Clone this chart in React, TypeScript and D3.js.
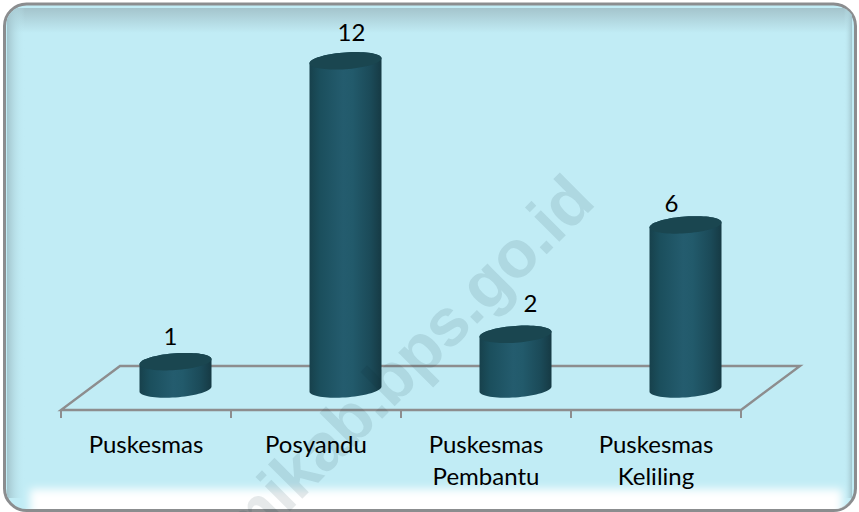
import React from 'react';
import * as d3 from 'd3';

const categories = ['Puskesmas', 'Posyandu', 'Puskesmas Pembantu', 'Puskesmas Keliling'];
const values = [1, 12, 2, 6];
const labelLines = [['Puskesmas'], ['Posyandu'], ['Puskesmas', 'Pembantu'], ['Puskesmas', 'Keliling']];
// data labels were moved by hand in the original
const labelDx = [-5, 6, 15, -14];
const labelDy = [-17, -20, -22, -13];

const W = 859;
const H = 512;
const FONT = 'Lato, "Noto Sans", sans-serif';

const x = d3.scaleBand<string>().domain(categories).range([61, 741]);
const y = d3.scaleLinear().domain([0, 12]).range([389, 60.8]);

const floorY = 410;
const backY = 366;
const depth = 59;
const tickLen = 8;
const rx = 36;
const ry = 8.4;
const tilt = 2.5;

const angles = d3.range(0, 2 * Math.PI + 0.001, Math.PI / 36);
const lowerHalf = d3.range(0, Math.PI + 0.001, Math.PI / 36);
const upperHalf = lowerHalf.map((t) => t + Math.PI);

const pt = (cx: number, cy: number, t: number): [number, number] => [
  cx + rx * Math.cos(t),
  cy - tilt * Math.cos(t) + ry * Math.sin(t),
];
const line = d3.line();

const topPath = (cx: number, cy: number) => line(angles.map((t) => pt(cx, cy, t))) + 'Z';
// side of the cylinder, closed over the far rim so the lid hides the seam
const bodyPath = (cx: number, top: number, base: number) =>
  line([...lowerHalf.map((t) => pt(cx, base, t)), ...upperHalf.map((t) => pt(cx, top, t))]) + 'Z';

export default function App() {
  const ticks = [...categories.map((c) => x(c) as number), 741];
  const cx = (c: string) => (x(c) as number) + x.bandwidth() / 2;

  return (
    <svg width={W} height={H} style={{ position: 'absolute', left: 0, top: 0 }}>
      <defs>
        <linearGradient id="body" x1="0" x2="1" y1="0" y2="0">
          <stop offset="0" stopColor="#17414c" />
          <stop offset="0.15" stopColor="#1b4f5d" />
          <stop offset="0.47" stopColor="#245c6e" />
          <stop offset="0.6" stopColor="#225a6b" />
          <stop offset="0.85" stopColor="#1b4a58" />
          <stop offset="1" stopColor="#163a44" />
        </linearGradient>
        <linearGradient id="shadeTop" x1="0" x2="0" y1="0" y2="1">
          <stop offset="0" stopColor="#a4c4cc" />
          <stop offset="1" stopColor="#c1ecf5" />
        </linearGradient>
        <linearGradient id="shadeLeft" x1="0" x2="1" y1="0" y2="0">
          <stop offset="0" stopColor="#a2c4cc" />
          <stop offset="1" stopColor="#c1ecf5" stopOpacity="0" />
        </linearGradient>
        <linearGradient id="shadeRight" x1="1" x2="0" y1="0" y2="0">
          <stop offset="0" stopColor="#a2c4cc" />
          <stop offset="1" stopColor="#c1ecf5" stopOpacity="0" />
        </linearGradient>
        <filter id="soft" x="-5%" y="-50%" width="110%" height="200%">
          <feGaussianBlur stdDeviation="4.5" />
        </filter>
        <clipPath id="inner">
          <rect x={6} y={6} width={849} height={503} rx={20} />
        </clipPath>
      </defs>

      <rect x={4.5} y={4} width={851} height={506.5} rx={22} fill="#c1ecf5" stroke="#8b8d8f" strokeWidth={3} />

      <g clipPath="url(#inner)">
        <rect x={7} y={8} width={845} height={25} fill="url(#shadeTop)" />
        <rect x={7} y={8} width={18} height={490} fill="url(#shadeLeft)" />
        <rect x={844} y={8} width={8} height={490} fill="url(#shadeRight)" />
        <rect x={30} y={489} width={812} height={30} fill="#ffffff" filter="url(#soft)" />
      </g>

      <path
        d={
          line([
            [ticks[0], floorY],
            [ticks[4], floorY],
            [ticks[4] + depth, backY],
            [ticks[0] + depth, backY],
          ]) + 'Z'
        }
        fill="none"
        stroke="#8d8d8e"
        strokeWidth={2.4}
      />
      {ticks.map((t) => (
        <line key={t} x1={t} x2={t} y1={floorY} y2={floorY + tickLen} stroke="#8d8d8e" strokeWidth={2} />
      ))}

      {categories.map((c, i) => {
        const bx = cx(c) + depth / 2;
        return (
          <g key={c}>
            <path d={bodyPath(bx, y(values[i]), y(0))} fill="url(#body)" />
            <path d={topPath(bx, y(values[i]))} fill="#1a4650" />
            <text
              x={bx + labelDx[i]}
              y={y(values[i]) + labelDy[i]}
              textAnchor="middle"
              fontFamily={FONT}
              fontSize={24}
              fill="#000"
            >
              {values[i]}
            </text>
          </g>
        );
      })}

      {categories.map((c, i) => (
        <text key={c} textAnchor="middle" fontFamily={FONT} fontSize={24} fill="#000">
          {labelLines[i].map((l, j) => (
            <tspan key={j} x={cx(c)} y={453 + j * 32}>
              {l}
            </tspan>
          ))}
        </text>
      ))}

      {/* watermark sits over everything */}
      <text
        transform="translate(597,204) rotate(-45)"
        textAnchor="end"
        fontFamily='"Liberation Sans", Arial, sans-serif'
        fontWeight="bold"
        fontSize={67}
        letterSpacing={-0.8}
        fill="#0a2a35"
        fillOpacity={0.1}
      >
        mikab.bps.go.id
      </text>
    </svg>
  );
}
